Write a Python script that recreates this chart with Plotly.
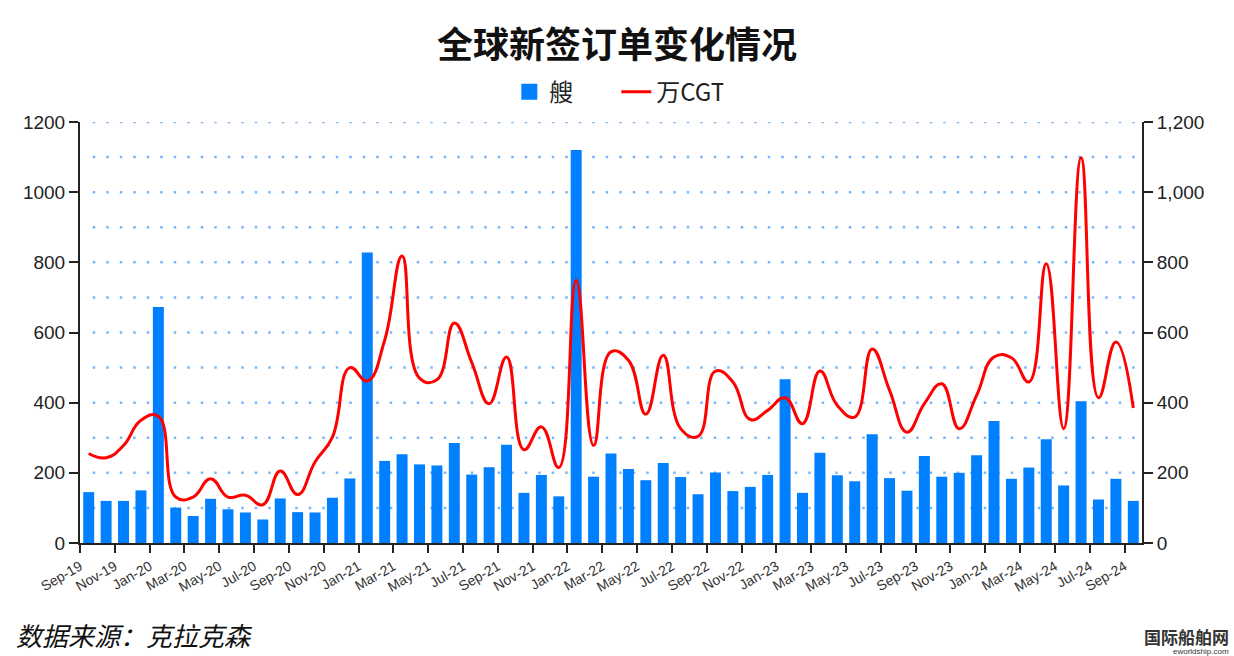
import plotly.graph_objects as go

months = ["Sep-19","Oct-19","Nov-19","Dec-19","Jan-20","Feb-20","Mar-20","Apr-20","May-20","Jun-20",
          "Jul-20","Aug-20","Sep-20","Oct-20","Nov-20","Dec-20","Jan-21","Feb-21","Mar-21","Apr-21",
          "May-21","Jun-21","Jul-21","Aug-21","Sep-21","Oct-21","Nov-21","Dec-21","Jan-22","Feb-22",
          "Mar-22","Apr-22","May-22","Jun-22","Jul-22","Aug-22","Sep-22","Oct-22","Nov-22","Dec-22",
          "Jan-23","Feb-23","Mar-23","Apr-23","May-23","Jun-23","Jul-23","Aug-23","Sep-23","Oct-23",
          "Nov-23","Dec-23","Jan-24","Feb-24","Mar-24","Apr-24","May-24","Jun-24","Jul-24","Aug-24",
          "Sep-24"]

ships = [145, 120, 120, 150, 673, 101, 77, 126, 96, 87,
         67, 127, 88, 87, 129, 184, 828, 234, 253, 224,
         221, 285, 195, 216, 280, 143, 194, 133, 1120, 189,
         255, 211, 179, 228, 188, 139, 201, 148, 160, 194,
         467, 143, 257, 193, 176, 310, 185, 149, 248, 189,
         200, 250, 348, 183, 215, 296, 164, 404, 124, 183,
         120]

cgt = [255, 243, 278, 350, 361, 131, 131, 183, 131, 136,
       109, 205, 138, 231, 302, 500, 462, 578, 818, 470,
       465, 627, 515, 397, 530, 266, 331, 215, 749, 278,
       545, 521, 367, 535, 326, 304, 490, 459, 352, 378,
       414, 340, 490, 392, 359, 553, 435, 316, 397, 454,
       326, 421, 530, 528, 459, 796, 326, 1098, 414, 573,
       385]

grid_levels = [100, 200, 300, 400, 500, 600, 700, 800, 900, 1000, 1100, 1200]

tick_pos = list(range(0, 61, 2))
tick_text = [months[i] for i in tick_pos]
xc = [i + 0.5 for i in range(len(months))]

BLUE = "#0080ff"
fig = go.Figure()
fig.add_trace(go.Bar(x=xc, y=ships, name="艘", marker=dict(color=BLUE, line=dict(width=0)),
                     width=0.63, yaxis="y", showlegend=False, legendgroup="ships"))
fig.add_trace(go.Scatter(x=[None], y=[None], name="艘", mode="markers", legendgroup="ships",
                         marker=dict(symbol="square", size=22, color=BLUE)))
fig.add_trace(go.Scatter(x=xc, y=cgt, name="万CGT", mode="lines",
                         line=dict(color="#ff0000", width=3, shape="spline", smoothing=1.3),
                         yaxis="y2"))

grid_col = "#78b8fa"
for g in grid_levels:
    fig.add_shape(type="line", xref="paper", x0=0.012, x1=1, yref="y", y0=g, y1=g,
                  line=dict(color=grid_col, width=2.5, dash="2.5px,11px"), layer="below")

axis_common = dict(showline=True, linecolor="#222", linewidth=2, ticks="outside", ticklen=9,
                   tickcolor="#222", tickwidth=2, zeroline=False)
fig.update_layout(
    width=1234, height=656,
    margin=dict(l=80, r=92, t=122, b=113),
    paper_bgcolor="white", plot_bgcolor="white",
    font=dict(family="Liberation Sans, Arial", color="#222"),
    title=dict(text="<b>全球新签订单变化情况</b>", x=0.5, xanchor="center", y=0.931, yanchor="middle",
               font=dict(family="Noto Sans CJK SC", size=36, color="#111")),
    showlegend=True,
    legend=dict(orientation="h", x=0.505, xanchor="center", y=1.071, yanchor="middle",
                font=dict(family="Noto Sans CJK SC", size=24, color="#222"),
                bgcolor="rgba(0,0,0,0)", entrywidth=62),
    xaxis=dict(range=[0, 61], tickmode="array", tickvals=tick_pos, ticktext=tick_text,
               tickangle=-30, tickfont=dict(size=14, color="#333"), showgrid=False,
               **{**axis_common, "ticklen": 8}),
    yaxis=dict(range=[0, 1200], dtick=200, tick0=0, tickfont=dict(size=19, color="#222"),
               showgrid=False, **axis_common),
    yaxis2=dict(range=[0, 1200], dtick=200, tick0=0, overlaying="y", side="right",
                tickformat=",", tickfont=dict(size=19, color="#222"), showgrid=False,
                **axis_common),
)

fig.add_annotation(text="<i>数据来源：克拉克森</i>", xref="paper", yref="paper",
                   x=-0.062, y=-0.218, xanchor="left", yanchor="middle", showarrow=False,
                   font=dict(family="Noto Sans CJK SC", size=26, color="#111"))
fig.add_annotation(text="<b>国际船舶网</b>", xref="paper", yref="paper",
                   x=1.084, y=-0.222, xanchor="right", yanchor="middle", showarrow=False,
                   font=dict(family="Noto Sans CJK SC", size=17, color="#333"))
fig.add_annotation(text="eworldship.com", xref="paper", yref="paper",
                   x=1.084, y=-0.258, xanchor="right", yanchor="middle", showarrow=False,
                   font=dict(family="Liberation Sans", size=8, color="#333"))

fig.write_html("out.html")
